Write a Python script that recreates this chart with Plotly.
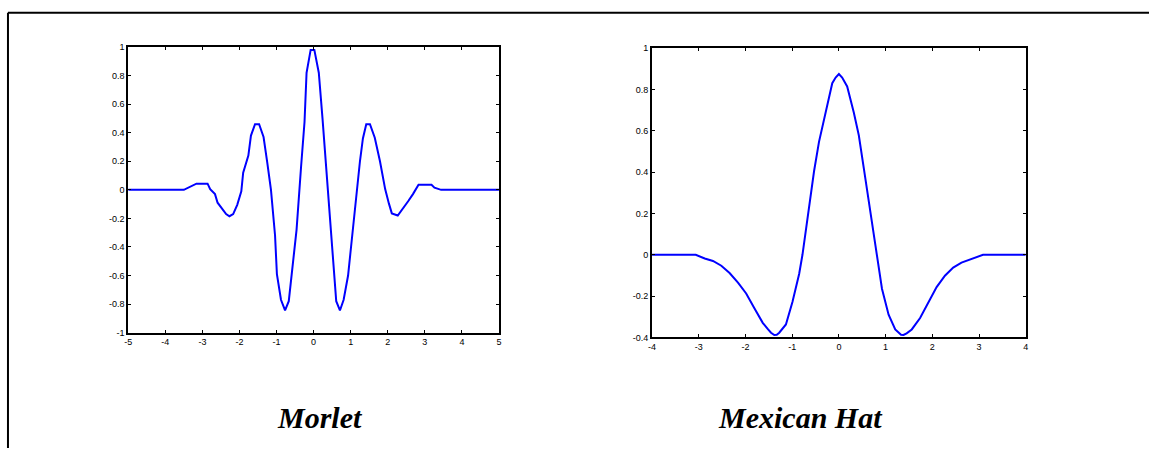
import plotly.graph_objects as go

# ---------------- data ----------------
morlet_x = [-5.0, -3.5, -3.16, -2.86, -2.79, -2.66, -2.59, -2.36, -2.27, -2.17,
            -2.06, -1.95, -1.90, -1.76, -1.69, -1.58, -1.47, -1.35, -1.25, -1.15,
            -1.04, -0.99, -0.88, -0.77, -0.67, -0.57, -0.46, -0.34, -0.245, -0.19,
            -0.08, 0.02, 0.14, 0.24, 0.35, 0.46, 0.61, 0.71, 0.81, 0.93,
            1.05, 1.17, 1.25, 1.33, 1.42, 1.52, 1.65, 1.79, 1.93, 2.03,
            2.11, 2.27, 2.39, 2.55, 2.68, 2.83, 3.18, 3.26, 3.44, 5.0]
morlet_y = [0.0, 0.0, 0.043, 0.043, 0.005, -0.03, -0.09, -0.17, -0.185, -0.17,
            -0.105, -0.01, 0.12, 0.24, 0.38, 0.46, 0.46, 0.37, 0.19, 0.0,
            -0.32, -0.59, -0.77, -0.845, -0.78, -0.56, -0.28, 0.155, 0.475, 0.82,
            0.98, 0.98, 0.82, 0.5, 0.11, -0.26, -0.78, -0.845, -0.77, -0.6,
            -0.28, 0.0, 0.2, 0.36, 0.46, 0.46, 0.365, 0.2, 0.005, -0.095,
            -0.165, -0.18, -0.14, -0.08, -0.03, 0.035, 0.035, 0.015, 0.0, 0.0]

mexhat_x = [-4.0, -3.064, -2.872, -2.696, -2.517, -2.34, -2.16, -1.985, -1.809, -1.63,
            -1.52, -1.453, -1.383, -1.33, -1.277, -1.134, -0.993, -0.851, -0.78, -0.709,
            -0.624, -0.532, -0.426, -0.319, -0.213, -0.142, -0.07, 0.0, 0.07, 0.1,
            0.177, 0.319, 0.426, 0.532, 0.638, 0.745, 0.816, 0.922, 1.064, 1.206,
            1.33, 1.383, 1.45, 1.56, 1.738, 1.915, 2.092, 2.27, 2.447, 2.624,
            2.837, 3.085, 4.0]
mexhat_y = [0.0, 0.0, -0.018, -0.030, -0.053, -0.088, -0.135, -0.187, -0.258, -0.329,
            -0.36, -0.377, -0.388, -0.387, -0.377, -0.337, -0.227, -0.093, 0.0, 0.12,
            0.246, 0.404, 0.546, 0.656, 0.767, 0.83, 0.857, 0.874, 0.857, 0.845,
            0.814, 0.688, 0.578, 0.42, 0.262, 0.089, -0.021, -0.164, -0.29, -0.361,
            -0.387, -0.388, -0.38, -0.361, -0.306, -0.227, -0.156, -0.101, -0.062, -0.038,
            -0.019, 0.0, 0.0]

morlet_xticks = [-5, -4, -3, -2, -1, 0, 1, 2, 3, 4, 5]
morlet_xtext = ["-5", "-4", "-3", "-2", "-1", "0", "1", "2", "3", "4", "5"]
morlet_yticks = [1, 0.8, 0.6, 0.4, 0.2, 0, -0.2, -0.4, -0.6, -0.8, -1]
morlet_ytext = ["1", "0.8", "0.6", "0.4", "0.2", "0", "-0.2", "-0.4", "-0.6", "-0.8", "-1"]
mexhat_xticks = [-4, -3, -2, -1, 0, 1, 2, 3, 4]
mexhat_xtext = ["-4", "-3", "-2", "-1", "0", "1", "2", "3", "4"]
mexhat_yticks = [1, 0.8, 0.6, 0.4, 0.2, 0, -0.2, -0.4]
mexhat_ytext = ["1", "0.8", "0.6", "0.4", "0.2", "0", "-0.2", "-0.4"]

titles = ["Morlet", "Mexican Hat"]

# ---------------- figure ----------------
W, H = 1152, 453
fig = go.Figure()
fig.add_trace(go.Scatter(x=morlet_x, y=morlet_y, mode="lines",
                         line=dict(color="#0000FF", width=2),
                         xaxis="x", yaxis="y", showlegend=False))
fig.add_trace(go.Scatter(x=mexhat_x, y=mexhat_y, mode="lines",
                         line=dict(color="#0000FF", width=2),
                         xaxis="x2", yaxis="y2", showlegend=False))

tickfont = dict(family="Arial, Liberation Sans, sans-serif", size=9, color="black")
common = dict(showline=True, linecolor="black", linewidth=2, mirror="allticks",
              ticks="inside", ticklen=3, tickwidth=1, tickcolor="black",
              showgrid=False, zeroline=False, tickfont=tickfont, fixedrange=True)

def px(xp):
    return xp / W

def py(yp):
    return 1 - yp / H

fig.update_layout(
    width=W, height=H,
    margin=dict(l=0, r=0, t=0, b=0),
    paper_bgcolor="white", plot_bgcolor="white",
    xaxis=dict(domain=[px(125), px(498)], range=[-5, 5],
               tickvals=morlet_xticks, ticktext=morlet_xtext, anchor="y", **common),
    yaxis=dict(domain=[py(335), py(43)], range=[-1, 1],
               tickvals=morlet_yticks, ticktext=morlet_ytext, anchor="x", **common),
    xaxis2=dict(domain=[px(652), px(1028)], range=[-4, 4],
                tickvals=mexhat_xticks, ticktext=mexhat_xtext, anchor="y2", **common),
    yaxis2=dict(domain=[py(340), py(44)], range=[-0.4, 1],
                tickvals=mexhat_yticks, ticktext=mexhat_ytext, anchor="x2", **common),
)

# outer frame (top and left edges)
fig.add_shape(type="line", xref="paper", yref="paper",
              x0=px(4), x1=1.0, y0=py(8), y1=py(8),
              line=dict(color="black", width=2))
fig.add_shape(type="line", xref="paper", yref="paper",
              x0=px(4), x1=px(4), y0=0, y1=py(8),
              line=dict(color="black", width=2))

title_font = dict(family="Liberation Serif, Times New Roman, serif", size=30, color="black")
fig.add_annotation(text="<b><i>%s</i></b>" % titles[0], xref="paper", yref="paper",
                   x=px(318), y=py(422), xanchor="center", yanchor="middle",
                   showarrow=False, font=title_font)
fig.add_annotation(text="<b><i>%s</i></b>" % titles[1], xref="paper", yref="paper",
                   x=px(801), y=py(422), xanchor="center", yanchor="middle",
                   showarrow=False, font=title_font)

fig.write_html("out.html",
               config={"displayModeBar": False, "staticPlot": True},
               post_script="document.body.style.margin='0';document.body.style.overflow='hidden';")
